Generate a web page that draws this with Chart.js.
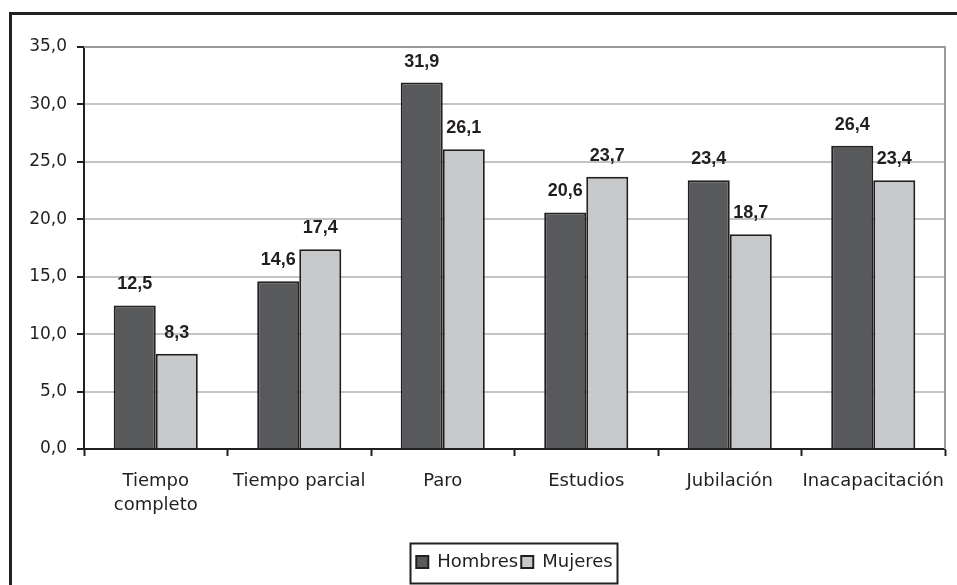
<!DOCTYPE html>
<html>
<head>
<meta charset="utf-8">
<script src="https://cdn.jsdelivr.net/npm/chart.js@4/dist/chart.umd.min.js"></script>
<style>
  html, body { margin: 0; padding: 0; background: #ffffff; }
  #wrap { position: relative; width: 957px; height: 585px; }
</style>
</head>
<body>
<div id="wrap"><canvas id="c" width="957" height="585"></canvas></div>
<script>
// Categorías y valores (%) por sexo
const categories = [["Tiempo", "completo"], "Tiempo parcial", "Paro", "Estudios", "Jubilación", "Inacapacitación"];
const hombres = [12.5, 14.6, 31.9, 20.6, 23.4, 26.4];
const mujeres = [8.3, 17.4, 26.1, 23.7, 18.7, 23.4];
const yTicks = [0, 5, 10, 15, 20, 25, 30, 35];

const INK = '#231f20';
const FONT = '"DejaVu Sans", Arial, sans-serif';
const fmt = v => v.toFixed(1).replace('.', ',');

// Marco exterior (líneas superior e izquierda)
const framePlugin = {
  id: 'frame',
  // La leyenda se centra bajo el área de trazado
  afterLayout(chart) {
    const lg = chart.legend, a = chart.chartArea;
    if (!lg) return;
    const delta = (a.left + a.right) / 2 - (lg.left + lg.right) / 2;
    lg.left += delta;
    lg.right += delta;
    lg.legendHitBoxes.forEach(h => { h.left += delta; });
  },
  beforeDraw(chart) {
    const ctx = chart.ctx;
    ctx.save();
    ctx.fillStyle = '#ffffff';
    ctx.fillRect(0, 0, chart.width, chart.height);
    ctx.strokeStyle = INK;
    ctx.lineWidth = 3;
    ctx.beginPath();
    ctx.moveTo(10.5, chart.height + 5);
    ctx.lineTo(10.5, 13.5);
    ctx.lineTo(chart.width + 5, 13.5);
    ctx.stroke();
    ctx.restore();
  },
  // Borde gris del área de trazado
  beforeDatasetsDraw(chart) {
    const a = chart.chartArea, ctx = chart.ctx;
    ctx.save();
    ctx.strokeStyle = '#9a9a9a';
    ctx.lineWidth = 2;
    ctx.beginPath();
    ctx.moveTo(a.left, a.top);
    ctx.lineTo(a.right, a.top);
    ctx.lineTo(a.right, a.bottom);
    ctx.stroke();
    ctx.restore();
  },
  // Recuadro alrededor de la leyenda
  afterDraw(chart) {
    const lg = chart.legend;
    if (!lg || !lg.legendHitBoxes.length) return;
    const boxes = lg.legendHitBoxes;
    const x0 = Math.min(...boxes.map(b => b.left)) - 6;
    const x1 = Math.max(...boxes.map(b => b.left + b.width)) + 5;
    const yc = boxes[0].top + boxes[0].height / 2;
    const ctx = chart.ctx;
    ctx.save();
    ctx.strokeStyle = INK;
    ctx.lineWidth = 2;
    ctx.strokeRect(Math.round(x0) + 0.5, Math.round(yc - 20) + 1.5, Math.round(x1 - x0), 40);
    ctx.restore();
  }
};

// Etiquetas de valor sobre cada barra
const valueLabels = {
  id: 'valueLabels',
  afterDatasetsDraw(chart) {
    const ctx = chart.ctx;
    ctx.save();
    ctx.font = 'bold 18px "Liberation Sans", Arial, sans-serif';
    ctx.fillStyle = INK;
    ctx.textAlign = 'center';
    ctx.textBaseline = 'alphabetic';
    chart.data.datasets.forEach((ds, i) => {
      chart.getDatasetMeta(i).data.forEach((bar, j) => {
        ctx.fillText(fmt(ds.data[j]), bar.x, bar.y - 16);
      });
    });
    ctx.restore();
  }
};

new Chart(document.getElementById('c'), {
  type: 'bar',
  data: {
    labels: categories,
    datasets: [
      { label: 'Hombres', data: hombres, backgroundColor: '#58595b', borderColor: INK, borderWidth: 2 },
      { label: 'Mujeres', data: mujeres, backgroundColor: '#c8c9cb', borderColor: INK, borderWidth: 2 }
    ]
  },
  options: {
    responsive: false,
    animation: false,
    devicePixelRatio: 1,
    layout: { padding: { left: 12, right: 12, top: 47, bottom: 4 } },
    datasets: { bar: { categoryPercentage: 0.586, barPercentage: 1.0 } },
    plugins: {
      tooltip: { enabled: false },
      legend: {
        position: 'bottom',
        labels: {
          color: INK,
          font: { family: FONT, size: 18 },
          boxWidth: 12,
          boxHeight: 12,
          padding: 3,
          generateLabels(chart) {
            return chart.data.datasets.map((ds, i) => ({
              text: ds.label,
              fillStyle: ds.backgroundColor,
              strokeStyle: INK,
              lineWidth: 2,
              fontColor: INK,
              datasetIndex: i,
              hidden: false
            }));
          }
        }
      }
    },
    scales: {
      x: {
        offset: true,
        grid: { offset: true, drawOnChartArea: false, tickLength: 7, tickColor: INK, tickWidth: 2 },
        border: { color: INK, width: 2 },
        ticks: {
          color: INK,
          padding: 13,
          maxRotation: 0,
          autoSkip: false,
          font: { family: FONT, size: 18, lineHeight: 1.35 }
        },
        afterFit(scale) {
          scale.height = 101;
          scale.paddingLeft = 0;
          scale.paddingRight = 0;
        }
      },
      y: {
        min: 0,
        max: 35,
        afterBuildTicks(scale) { scale.ticks = yTicks.map(v => ({ value: v })); },
        grid: {
          color: ctx => (ctx.tick && ctx.tick.value === 35) ? '#9a9a9a' : '#c4c4c4',
          lineWidth: 2,
          tickLength: 7,
          tickColor: INK,
          tickWidth: 2
        },
        border: { color: INK, width: 2 },
        ticks: {
          color: INK,
          padding: 10,
          font: { family: FONT, size: 17 },
          callback: v => fmt(v)
        },
        afterFit(scale) { scale.width = 72; }
      }
    }
  },
  plugins: [framePlugin, valueLabels]
});
</script>
</body>
</html>
